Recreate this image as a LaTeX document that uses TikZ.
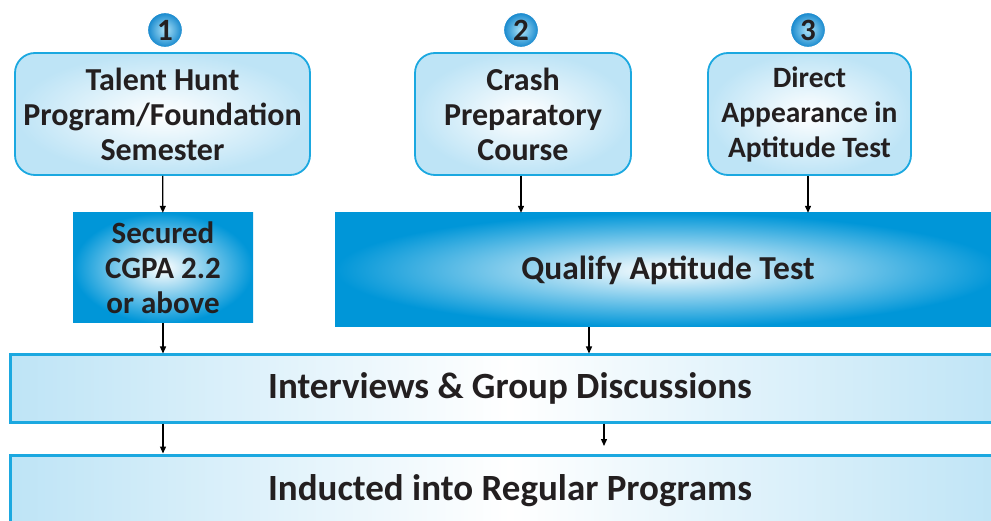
\documentclass[tikz,border=0pt]{standalone}
\usepackage{fontspec}
\setmainfont{Carlito}
\usetikzlibrary{arrows.meta,positioning,calc}

\definecolor{rimblue}{RGB}{27,168,224}
\definecolor{paleblue}{RGB}{190,228,246}
\definecolor{deepblue}{RGB}{0,150,216}
\definecolor{inkgray}{RGB}{35,31,32}

\begin{document}
\begin{tikzpicture}[
    x=1pt, y=-1pt,
    every node/.style={text=inkgray, font=\fontsize{32}{35}\selectfont\bfseries, align=center},
    route/.style={rectangle, rounded corners=20pt, draw=rimblue, line width=1.8pt, shading=radial, inner color=white, outer color=paleblue},
    gate/.style={rectangle, shading=radial, inner color=white, outer color=deepblue},
    stage/.style={rectangle, draw=rimblue, line width=3pt, left color=paleblue, right color=paleblue, middle color=white, font=\fontsize{37}{40}\selectfont\bfseries},
    badge/.style={circle, draw=white, line width=1.2pt, shading=radial, inner color={rgb,255:red,175;green,228;blue,248}, outer color={rgb,255:red,20;green,135;blue,205}, minimum size=35pt, inner sep=0pt, font=\fontsize{31}{31}\selectfont\bfseries},
    arrow/.style={-{Triangle[length=7pt,width=6pt]}, line width=1.3pt, black}
]
\clip (0,0) rectangle (991,521);

% Row 1: three routes
\node[route, minimum width=295pt, minimum height=122pt] (talent) at (162.5,114) {Talent Hunt\\Program/Foundation\\Semester};
\node[route, minimum width=216pt, minimum height=122pt] (crash) at (523,114) {Crash\\Preparatory\\Course};
\node[route, minimum width=203pt, minimum height=122pt, font=\fontsize{29.5}{35}\selectfont\bfseries] (direct) at (809.5,114) {Direct\\Appearance in\\Aptitude Test};

% Numbers
\node[badge] (n1) at (165,30) {1};
\node[badge] (n2) at (521,30) {2};
\node[badge] (n3) at (808,30) {3};

% Row 2: conditions
\node[gate, minimum width=180pt, minimum height=110pt, font=\fontsize{31}{35}\selectfont\bfseries] (secured) at (163,268) {Secured\\CGPA 2.2\\or above};
\node[gate, minimum width=666pt, minimum height=114pt, font=\fontsize{33.5}{36}\selectfont\bfseries] (qualify) at (668,270) {Qualify Aptitude Test};

% Row 3 and 4: common stages
\node[stage, minimum width=1000pt, minimum height=67pt] (interviews) at (510,388.5) {Interviews \& Group Discussions};
\node[stage, minimum width=1000pt, minimum height=72pt] (inducted) at (510,491) {Inducted into Regular Programs};
\coordinate (gapend) at (604,446);

% Edges
\draw[arrow] (talent) -- (secured);
\draw[arrow] ([xshift=-2pt]crash.south) -- ([xshift=-2pt]crash.south |- qualify.north);
\draw[arrow] ([xshift=-1.5pt]direct.south) -- ([xshift=-1.5pt]direct.south |- qualify.north);
\draw[arrow] (secured) -- (secured |- interviews.north);
\draw[arrow] ([xshift=-79pt]qualify.south) -- ([xshift=-79pt]qualify.south |- interviews.north);
\draw[arrow] (interviews.south -| secured) -- (inducted.north -| secured);
\draw[arrow] (interviews.south -| gapend) -- (gapend);

\end{tikzpicture}
\end{document}
